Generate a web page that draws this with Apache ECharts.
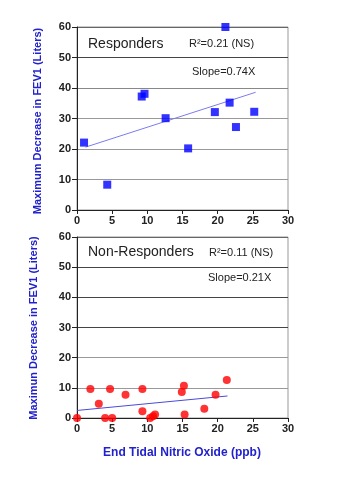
<!DOCTYPE html>
<html><head><meta charset="utf-8">
<script src="https://cdn.jsdelivr.net/npm/echarts@6/dist/echarts.min.js"></script>
<style>html,body{margin:0;padding:0;background:#fff}#c{width:338px;height:480px}</style>
</head><body><div id="c"></div>
<script>
var respX = [1.0, 4.3, 9.2, 9.6, 12.6, 15.8, 19.6, 21.1, 21.7, 22.6, 25.2];
var respY = [22.1, 8.3, 37.2, 38.1, 30.1, 20.2, 32.1, 60, 35.2, 27.2, 32.2];
var respTrendX = [1.2, 25.4];
var respTrendY = [20.6, 38.6];
var nonX = [0, 1.9, 3.1, 4.0, 4.7, 5.0, 6.9, 9.3, 9.3, 10.4, 10.8, 11.1, 14.9, 15.2, 15.3, 18.1, 19.7, 21.3];
var nonY = [0, 9.6, 4.7, 0, 9.6, 0, 7.7, 9.6, 2.2, 0, 0.6, 1.2, 8.6, 10.7, 1.2, 3.1, 7.7, 12.6];
var nonTrendX = [0, 21.4];
var nonTrendY = [2.5, 7.3];
var xTicks = [0, 5, 10, 15, 20, 25, 30];
var yTicks = [0, 10, 20, 30, 40, 50, 60];

function pairs(a, b) { return a.map(function (v, i) { return [v, b[i]]; }); }
var FONT = '"Liberation Sans", Arial, sans-serif';
function xAx(idx) {
  return {
    gridIndex: idx, type: 'value', min: xTicks[0], max: xTicks[xTicks.length - 1], interval: 5,
    axisLine: { show: true, onZero: false, lineStyle: { color: '#222', width: 1 } },
    axisTick: { show: true, inside: false, length: 4, lineStyle: { color: '#222' } },
    axisLabel: { color: '#222', fontSize: 11, fontFamily: FONT, fontWeight: 'bold', margin: 5 },
    splitLine: { show: false }
  };
}
function yAx(idx, colors) {
  return {
    gridIndex: idx, type: 'value', min: yTicks[0], max: yTicks[yTicks.length - 1], interval: 10,
    axisLine: { show: true, onZero: false, lineStyle: { color: '#222', width: 1 } },
    axisTick: { show: true, inside: false, length: 5, lineStyle: { color: '#222' } },
    axisLabel: { color: '#222', fontSize: 11, fontFamily: FONT, fontWeight: 'bold', margin: 6 },
    splitLine: { show: true, lineStyle: { color: colors, width: 1 } }
  };
}
var chart = echarts.init(document.getElementById('c'), null, { renderer: 'canvas' });
chart.setOption({
  animation: false,
  grid: [
    { left: 77, top: 27, right: 50, height: 183, show: true, borderColor: '#999', borderWidth: 1, backgroundColor: 'transparent' },
    { left: 77, top: 237, right: 50, height: 181, show: true, borderColor: '#999', borderWidth: 1, backgroundColor: 'transparent' }
  ],
  xAxis: [xAx(0), xAx(1)],
  yAxis: [
    yAx(0, ['#999', '#999', '#999', '#999', '#888', '#444', '#666']),
    yAx(1, ['#999', '#999', '#999', '#444', '#444', '#444', '#666'])
  ],
  series: [
    { type: 'line', xAxisIndex: 0, yAxisIndex: 0, data: pairs(respTrendX, respTrendY), symbol: 'none',
      lineStyle: { color: '#7b7bef', width: 1 }, z: 2 },
    { type: 'scatter', xAxisIndex: 0, yAxisIndex: 0, data: pairs(respX, respY), symbol: 'rect', symbolSize: 8,
      itemStyle: { color: '#0000ff' }, z: 3 },
    { type: 'line', xAxisIndex: 1, yAxisIndex: 1, data: pairs(nonTrendX, nonTrendY), symbol: 'none',
      lineStyle: { color: '#4a4ad8', width: 1 }, z: 2 },
    { type: 'scatter', xAxisIndex: 1, yAxisIndex: 1, data: pairs(nonX, nonY), symbol: 'circle', symbolSize: 8,
      itemStyle: { color: '#ff0000' }, z: 3 }
  ],
  graphic: [
    { type: 'text', left: 88, top: 37, style: { text: 'Responders', font: '14px ' + FONT, fill: '#222' } },
    { type: 'text', left: 189, top: 38, style: { text: 'R\u00b2=0.21 (NS)', font: '11px ' + FONT, fill: '#222' } },
    { type: 'text', left: 192, top: 66, style: { text: 'Slope=0.74X', font: '11px ' + FONT, fill: '#222' } },
    { type: 'text', left: 88, top: 245, style: { text: 'Non-Responders', font: '14px ' + FONT, fill: '#222' } },
    { type: 'text', left: 209, top: 247, style: { text: 'R\u00b2=0.11 (NS)', font: '11px ' + FONT, fill: '#222' } },
    { type: 'text', left: 208, top: 272, style: { text: 'Slope=0.21X', font: '11px ' + FONT, fill: '#222' } },
    { type: 'text', x: 38, y: 121, rotation: Math.PI / 2, style: { text: 'Maximum Decrease in FEV1 (Liters)', font: 'bold 11px ' + FONT, fill: '#2222cc', align: 'center', verticalAlign: 'middle' } },
    { type: 'text', x: 34, y: 328, rotation: Math.PI / 2, style: { text: 'Maximun Decrease in FEV1 (Liters)', font: 'bold 11px ' + FONT, fill: '#2222cc', align: 'center', verticalAlign: 'middle' } },
    { type: 'text', x: 182, y: 453, style: { text: 'End Tidal Nitric Oxide (ppb)', font: 'bold 12px ' + FONT, fill: '#2222cc', align: 'center', verticalAlign: 'middle' } }
  ]
});
</script></body></html>
